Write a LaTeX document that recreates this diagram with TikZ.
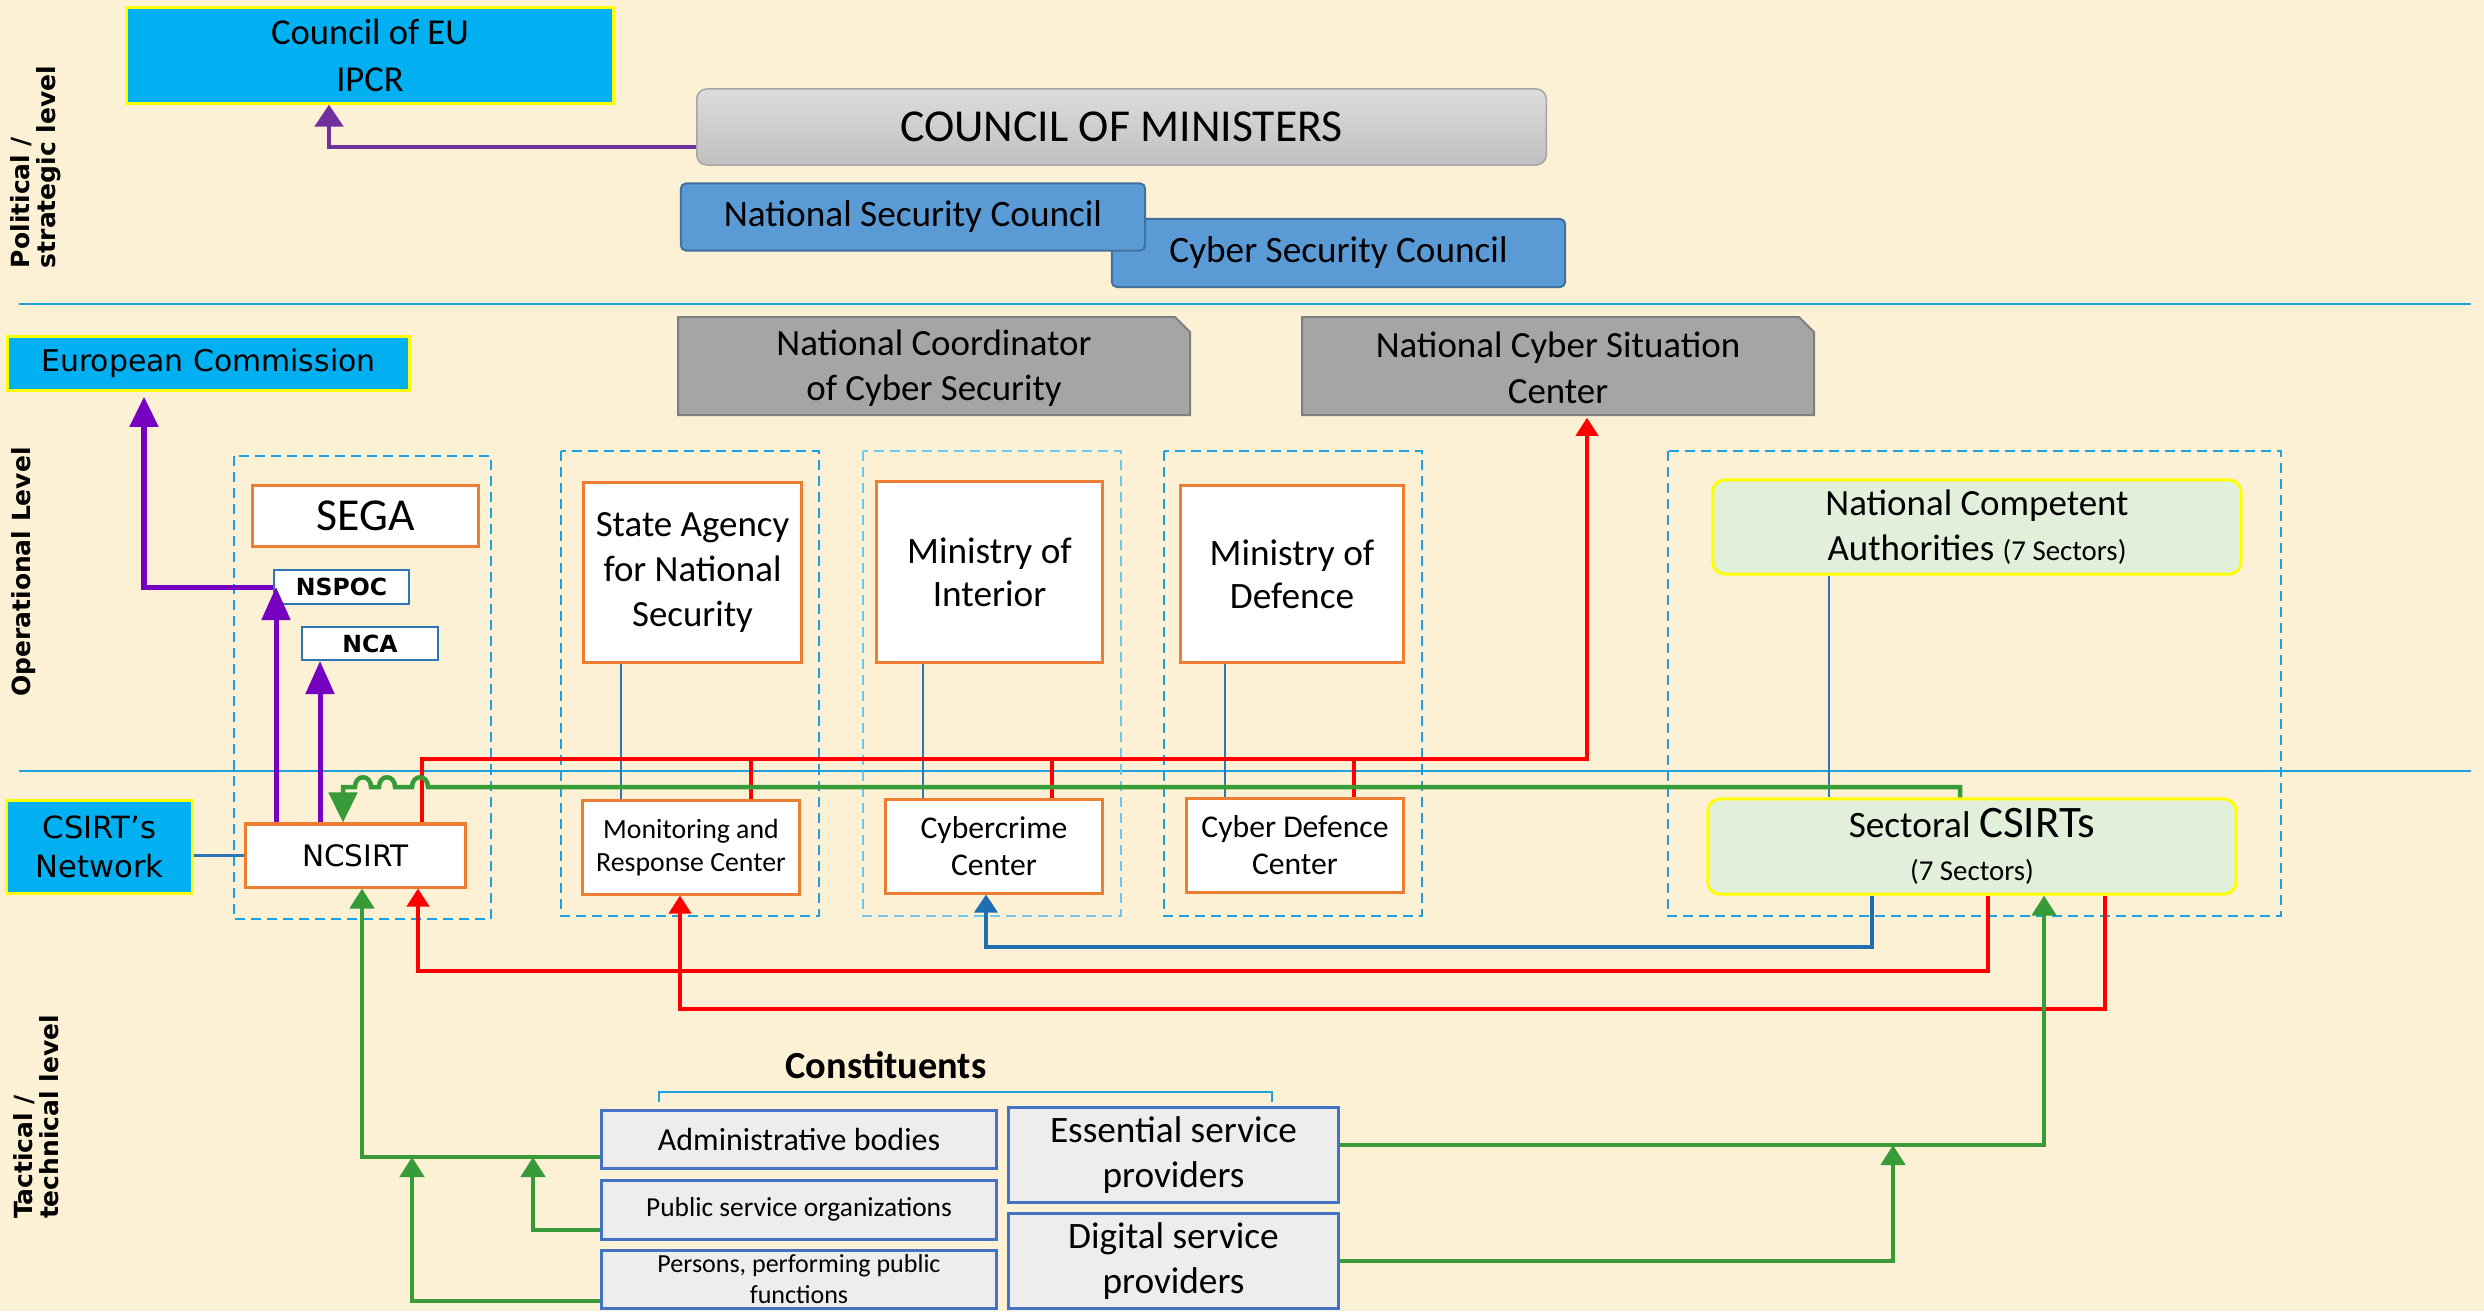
\documentclass[tikz,border=0pt]{standalone}
\usepackage{fontspec}
\setmainfont{Carlito}
\newfontfamily\verdfont{DejaVu Sans}
\usetikzlibrary{arrows.meta,positioning,calc}
\definecolor{parchment}{RGB}{252,240,213}
\definecolor{eucyan}{RGB}{0,176,240}
\definecolor{hlyellow}{RGB}{255,255,0}
\definecolor{cmgreytop}{RGB}{220,220,220}
\definecolor{cmgreybot}{RGB}{192,192,192}
\definecolor{cmedge}{RGB}{165,165,165}
\definecolor{scblue}{RGB}{91,155,213}
\definecolor{scedge}{RGB}{65,113,156}
\definecolor{snipgrey}{RGB}{165,165,165}
\definecolor{snipedge}{RGB}{127,127,127}
\definecolor{agencyorange}{RGB}{237,125,49}
\definecolor{grpblue}{RGB}{27,161,226}
\definecolor{grplight}{RGB}{110,200,238}
\definecolor{linkblue}{RGB}{46,117,182}
\definecolor{levelblue}{RGB}{30,160,220}
\definecolor{eupurple}{RGB}{112,48,160}
\definecolor{segaviolet}{RGB}{118,0,192}
\definecolor{flowred}{RGB}{255,0,0}
\definecolor{flowgreen}{RGB}{55,155,55}
\definecolor{sectgreen}{RGB}{226,239,218}
\definecolor{constgrey}{RGB}{237,237,237}
\definecolor{constedge}{RGB}{68,114,196}
\definecolor{backblue}{RGB}{31,111,176}
\newcommand{\fsz}[2]{\fontsize{#1}{#2}\selectfont}

\begin{document}
\begin{tikzpicture}[x=0.01cm, y=-0.01cm, every node/.style={inner sep=0pt,align=center},
  lvl/.style={font={\verdfont\bfseries\fsz{7.1}{7.4}},rotate=90,align=left},
  cyanbox/.style={draw=hlyellow,fill=eucyan,line width=0.03cm},
  cmbox/.style={draw=cmedge,top color=cmgreytop,bottom color=cmgreybot,rounded corners=0.1cm,
                line width=0.015cm},
  scbox/.style={draw=scedge,fill=scblue,rounded corners=0.05cm,line width=0.02cm,
                font={\fsz{10.6}{13}}},
  snip/.style={draw=snipedge,fill=snipgrey,line width=0.02cm},
  grp/.style={draw=grpblue,dash pattern=on 0.1cm off 0.06cm,line width=0.02cm},
  orgbox/.style={draw=agencyorange,fill=white,line width=0.03cm},
  tagbox/.style={draw=linkblue,fill=white,line width=0.02cm,font={\verdfont\bfseries\fsz{6.7}{8}}},
  sectbox/.style={draw=hlyellow,fill=sectgreen,rounded corners=0.12cm,line width=0.03cm},
  constbox/.style={draw=constedge,fill=constgrey,line width=0.03cm},
  level/.style={draw=levelblue,line width=0.025cm},
  link/.style={draw=linkblue,line width=0.015cm},
  violetar/.style={segaviolet,line width=0.05cm,-{Triangle[length=0.33cm,width=0.28cm]}},
  euar/.style={eupurple,line width=0.045cm,-{Triangle[length=0.22cm,width=0.28cm]}},
  redln/.style={flowred,line width=0.04cm},
  redar/.style={redln,-{Triangle[length=0.18cm,width=0.22cm]}},
  grnln/.style={flowgreen,line width=0.045cm},
  grnar/.style={grnln,-{Triangle[length=0.2cm,width=0.24cm]}},
  bluear/.style={backblue,line width=0.035cm,-{Triangle[length=0.18cm,width=0.23cm]}}]

\useasboundingbox (0,0) rectangle (2484,1311);
\fill[parchment] (0,0) rectangle (2484,1311);

% levels
\draw[level] (19,304) -- (2471,304);
\draw[level] (19,771) -- (2471,771);
\node[lvl] (pol) at (36,167) {Political /\\strategic level};
\node[lvl] (opl) at (24,572) {Operational Level};
\node[lvl] (tac) at (36,1117) {Tactical /\\technical level};

% political / strategic
\node[cyanbox,font={\fsz{10.4}{13.4}},minimum width=4.86cm,minimum height=0.95cm] (eu) at (370,55.5)
  {Council of EU\\IPCR};
\node[cmbox,font={\fsz{13}{15}},minimum width=8.49cm,minimum height=0.76cm] (com) at (1121.5,127)
  {COUNCIL OF MINISTERS};
\node[scbox,minimum width=4.53cm,minimum height=0.68cm] (csc) at (1338.5,253)
  {Cyber Security Council};
\node[scbox,minimum width=4.64cm,minimum height=0.67cm] (nsc) at (913,217)
  {National Security Council};

% operational
\node[cyanbox,font={\verdfont\fsz{8.5}{10}},minimum width=4.01cm,minimum height=0.53cm] (ec)
  at (208.5,363.5) {European Commission};
\draw[snip] (678,415) -- (678,317) -- (1175,317) -- (1190,332) -- (1190,415) -- cycle;
\node[font={\fsz{10.5}{13}},minimum width=5.12cm,minimum height=0.98cm] (ncoord) at (934,368)
  {National Coordinator\\of Cyber Security};
\draw[snip] (1302,415) -- (1302,317) -- (1799,317) -- (1814,332) -- (1814,415) -- cycle;
\node[font={\fsz{10.5}{13}},minimum width=5.12cm,minimum height=0.98cm] (ncsc) at (1558,368)
  {National Cyber Situation\\Center};

\draw[grp] (234,456) rectangle (491,919);
\draw[grp] (561,451) rectangle (819,916);
\draw[grp,draw=grplight] (863,451) rectangle (1121,916);
\draw[grp] (1164,451) rectangle (1422,916);
\draw[grp] (1668,451) rectangle (2281,916);

\node[orgbox,font={\fsz{13}{15}},minimum width=2.25cm,minimum height=0.6cm] (sega) at (365.5,516)
  {SEGA};
\node[tagbox,minimum width=1.35cm,minimum height=0.34cm] (nspoc) at (341.5,587) {NSPOC};
\node[tagbox,minimum width=1.36cm,minimum height=0.33cm] (nca) at (370,643.5) {NCA};
\node[orgbox,font={\verdfont\fsz{8.4}{10}},minimum width=2.19cm,minimum height=0.63cm] (ncsirt)
  at (355.5,855.5) {NCSIRT};
\node[cyanbox,font={\verdfont\fsz{8.7}{11}},minimum width=1.85cm,minimum height=0.92cm] (csirtnet)
  at (99.5,847) {CSIRT’s\\Network};

\node[orgbox,font={\fsz{10.5}{12.8}},minimum width=2.17cm,minimum height=1.79cm] (sans)
  at (692.5,572.5) {State Agency\\for National\\Security};
\node[orgbox,font={\fsz{7.9}{9.4}},minimum width=2.16cm,minimum height=0.93cm] (mrc) at (691,847.5)
  {Monitoring and\\Response Center};
\node[orgbox,font={\fsz{10.6}{12.2}},minimum width=2.25cm,minimum height=1.8cm] (moi) at (989.5,572)
  {Ministry of\\Interior};
\node[orgbox,font={\fsz{9}{10.5}},minimum width=2.16cm,minimum height=0.93cm] (ccc) at (994,846.5)
  {Cybercrime\\Center};
\node[orgbox,font={\fsz{10.6}{12.2}},minimum width=2.22cm,minimum height=1.76cm] (mod) at (1292,574)
  {Ministry of\\Defence};
\node[orgbox,font={\fsz{9}{10.5}},minimum width=2.16cm,minimum height=0.93cm] (cdc) at (1295,845.5)
  {Cyber Defence\\Center};
\node[sectbox,font={\fsz{10.5}{12.8}},minimum width=5.28cm,minimum height=0.94cm] (ncauth)
  at (1977,527) {National Competent\\Authorities {\fsz{8.2}{10}(7 Sectors)}};
\node[sectbox,font={\fsz{10.6}{12.4}},minimum width=5.28cm,minimum height=0.95cm] (scs)
  at (1972,846.5) {Sectoral {\fsz{12.8}{14}CSIRTs}\\{\fsz{8.2}{10}(7 Sectors)}};

% tactical / technical
\node[font={\bfseries\fsz{10.9}{13}}] (cons) at (886,1065) {Constituents};
\draw[level,line width=0.015cm] (659,1102) -- (659,1092) -- (1272,1092) -- (1272,1102);
\node[constbox,font={\fsz{9.1}{11}},minimum width=3.94cm,minimum height=0.58cm] (adm) at (799,1139)
  {Administrative bodies};
\node[constbox,font={\fsz{7.8}{9.4}},minimum width=3.94cm,minimum height=0.59cm] (pso)
  at (799,1209.5) {Public service organizations};
\node[constbox,font={\fsz{7.4}{9}},minimum width=3.94cm,minimum height=0.58cm] (pers) at (799,1279)
  {Persons, performing public\\functions};
\node[constbox,font={\fsz{10.6}{12.8}},minimum width=3.29cm,minimum height=0.94cm] (esp)
  at (1173.5,1155) {Essential service\\providers};
\node[constbox,font={\fsz{10.6}{12.8}},minimum width=3.29cm,minimum height=0.94cm] (dsp)
  at (1173.5,1261) {Digital service\\providers};

% purple: reporting upwards
\draw[euar] (com.west |- 0,147) -- (329,147) -- (eu.south -| 329,0);
\draw[euar,segaviolet,line width=0.05cm,-{Triangle[length=0.3cm,width=0.28cm]},shorten >=1.5pt]
  (nspoc.west) -- (144,587) -- (ec.south -| 144,0);
\draw[violetar] (ncsirt.north -| 276,0) -- (nspoc.west -| 276,0);
\draw[violetar] (ncsirt.north -| 320,0) -- (nca.south -| 320,0);
\draw[link,line width=0.025cm] (csirtnet.east |- ncsirt.west) -- (ncsirt.west);

% thin links ministry -> centre
\foreach \a/\b/\x in {sans/mrc/621,moi/ccc/923,mod/cdc/1225,ncauth/scs/1829}
  \draw[link] (\a.south -| \x,0) -- (\b.north -| \x,0);

% red: situation reporting
\draw[redar] (ncsirt.north -| 422,0) -- (422,759) -- (1587,759) -- (ncsc.south -| 1587,0);
\foreach \b/\x in {mrc/751,ccc/1052,cdc/1354}
  \draw[redln] (\x,759) -- (\b.north -| \x,0);
\draw[redar] (scs.south -| 1988,0) -- (1988,971) -- (418,971) -- (ncsirt.south -| 418,0);
\draw[redar] (scs.south -| 2105,0) -- (2105,1009) -- (680,1009) -- (mrc.south -| 680,0);
\draw[bluear] (scs.south -| 1872,0) -- (1872,947) -- (986,947) -- (ccc.south -| 986,0);

% green: sectoral CSIRTs back to NCSIRT, hopping the crossings
\draw[grnln,-{Triangle[length=0.3cm,width=0.28cm]}] (scs.north -| 1960,0) -- (1960,787) -- (428,787)
  .. controls (428,774) and (412,774) .. (412,787) -- (395,787)
  .. controls (395,774) and (379,774) .. (379,787) -- (371,787)
  .. controls (371,774) and (355,774) .. (355,787) -- (343,787) -- (ncsirt.north -| 343,0);

% green: constituents
\draw[grnar] (adm.west |- 0,1157) -- (362,1157) -- (ncsirt.south -| 362,0);
\draw[grnar] (pso.west |- 0,1230) -- (533,1230) -- (533,1157);
\draw[grnar] (pers.west |- 0,1301) -- (412,1301) -- (412,1157);
\draw[grnar] (esp.east |- 0,1145) -- (2044,1145) -- (scs.south -| 2044,0);
\draw[grnar] (dsp.east |- 0,1261) -- (1893,1261) -- (1893,1145);
\end{tikzpicture}
\end{document}
